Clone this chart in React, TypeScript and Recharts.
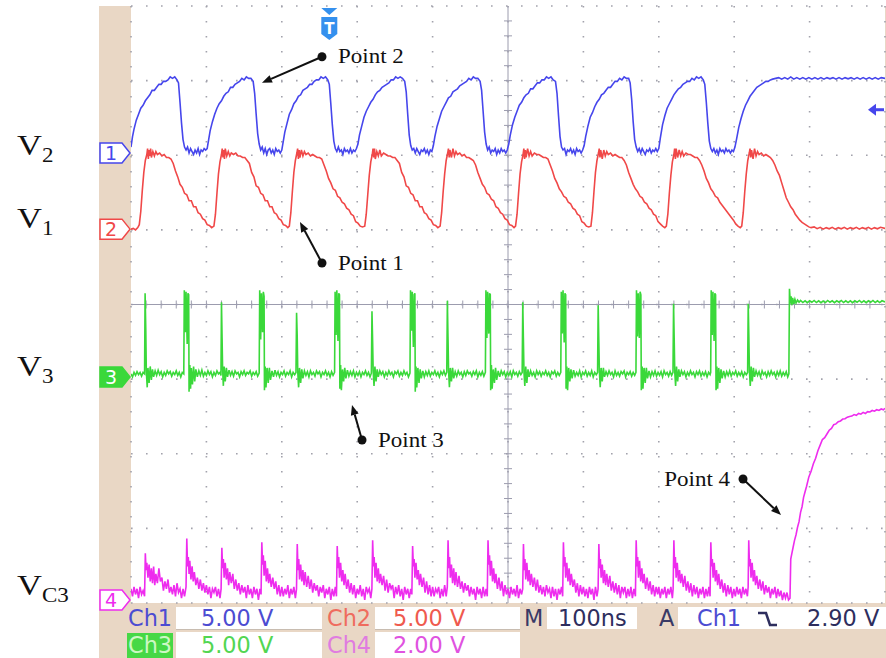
import React from 'react';
import { LineChart, Line, XAxis, YAxis, CartesianGrid, ReferenceLine, ReferenceDot } from 'recharts';

type Pt = [number, number];

// Ch1 (V2) volts vs time (ns)
const CH1_TRACE: Pt[] = [
  [0,0.4],[2,1.1],[4,1.6],[7,2.2],[10,2.6],[13,3.0],[16,3.2],[19,3.5],[22,3.7],[25,3.9],[28,4.2],[31,4.2],[34,4.4],[37,4.6],[40,4.6],[43,4.8],[46,4.8],[49,4.9],[52,5.1],[55,5.0],[58,5.1],[61,4.9],[63,4.7],[65,3.4],[67,2.0],[69,0.9],[71,0.4],[73,0.2],[75,0.4],[77,0.0],[79,0.3],[81,0.1],[83,-0.1],[85,0.2],[87,0.0],[89,0.3],[91,-0.1],[93,0.2],[95,0.1],[97,0.3],[99,0.2],
  [101,0.3],[103,0.9],[105,1.5],[108,2.1],[111,2.6],[114,3.0],[117,3.3],[120,3.5],[123,3.8],[126,4.0],[129,4.1],[132,4.4],[135,4.4],[138,4.6],[141,4.7],[144,4.8],[147,5.0],[150,4.9],[153,5.1],[156,5.0],[159,5.0],[162,4.8],[164,4.0],[166,2.6],[168,1.3],[170,0.6],[172,0.2],[174,0.4],[176,0.0],[178,0.3],[180,-0.1],[182,0.2],[184,0.3],[186,0.0],[188,0.2],[190,-0.1],[192,0.3],[194,0.1],[196,0.2],[198,0.0],
  [200,0.2],[202,0.8],[204,1.4],[207,2.0],[210,2.6],[213,2.9],[216,3.3],[219,3.5],[222,3.8],[225,3.9],[228,4.2],[231,4.3],[234,4.4],[237,4.6],[240,4.6],[243,4.8],[246,4.9],[249,4.9],[252,5.1],[255,5.0],[258,5.1],[261,4.9],[263,4.6],[265,3.3],[267,1.9],[269,0.8],[271,0.3],[273,0.1],[275,0.4],[277,0.1],[279,0.2],[281,-0.1],[283,0.3],[285,0.1],[287,0.2],[289,0.0],[291,0.3],[293,0.0],[295,0.2],[297,0.1],[299,0.3],
  [301,0.6],[303,1.2],[306,1.8],[309,2.4],[312,2.8],[315,3.1],[318,3.4],[321,3.6],[324,3.9],[327,4.1],[330,4.2],[333,4.4],[336,4.5],[339,4.6],[342,4.7],[345,4.9],[348,4.9],[351,5.1],[354,5.0],[357,5.1],[360,5.0],[363,4.8],[365,4.1],[367,2.6],[369,1.2],[371,0.5],[373,0.2],[375,0.3],[377,0.0],[379,0.3],[381,0.1],[383,-0.1],[385,0.2],[387,0.1],[389,0.3],[391,0.0],[393,0.2],[395,-0.1],[397,0.2],[399,0.1],
  [401,0.5],[403,1.1],[406,1.8],[409,2.3],[412,2.8],[415,3.1],[418,3.4],[421,3.7],[424,3.8],[427,4.1],[430,4.2],[433,4.3],[436,4.5],[439,4.6],[442,4.7],[445,4.8],[448,5.0],[451,4.9],[454,5.1],[457,5.0],[460,5.0],[463,4.8],[465,4.2],[467,2.8],[469,1.4],[471,0.6],[473,0.2],[475,0.4],[477,0.0],[479,0.2],[481,0.1],[483,0.3],[485,-0.1],[487,0.2],[489,0.0],[491,0.3],[493,0.1],[495,0.2],[497,0.0],[499,0.2],
  [501,0.6],[503,1.2],[506,1.9],[509,2.4],[512,2.8],[515,3.2],[518,3.4],[521,3.7],[524,3.9],[527,4.0],[530,4.3],[533,4.3],[536,4.5],[539,4.7],[542,4.7],[545,4.9],[548,4.9],[551,5.1],[554,5.0],[557,5.1],[560,4.9],[563,4.8],[565,4.0],[567,2.5],[569,1.1],[571,0.4],[573,0.2],[575,0.3],[577,-0.1],[579,0.2],[581,0.1],[583,0.3],[585,0.0],[587,0.2],[589,-0.1],[591,0.3],[593,0.1],[595,0.2],[597,0.0],[599,0.2],
  [601,0.5],[603,1.1],[606,1.8],[609,2.4],[612,2.7],[615,3.1],[618,3.4],[621,3.6],[624,3.9],[627,4.0],[630,4.2],[633,4.4],[636,4.4],[639,4.6],[642,4.8],[645,4.8],[648,5.0],[651,4.9],[654,5.1],[657,5.0],[660,5.0],[662,4.7],[664,3.6],[666,2.1],[668,0.9],[670,0.4],[672,0.1],[674,0.3],[676,0.0],[678,0.3],[680,0.1],[682,-0.1],[684,0.2],[686,0.1],[688,0.3],[690,0.0],[692,0.2],[694,0.1],[696,0.3],[698,0.1],
  [700,0.3],[702,1.0],[705,1.9],[708,2.5],[711,3.0],[714,3.3],[717,3.6],[720,3.9],[723,4.1],[726,4.3],[729,4.4],[732,4.6],[735,4.7],[738,4.8],[741,4.8],[744,5.0],[747,4.9],[750,5.1],[753,5.0],[756,5.1],[759,4.9],[761,4.6],[763,3.4],[765,2.0],[767,0.8],[769,0.3],[771,0.1],[773,0.3],[775,0.0],[777,0.2],[779,-0.1],[781,0.3],[783,0.1],[785,0.2],[787,0.0],[789,0.3],[791,0.1],[793,0.2],[795,0.0],[797,0.2],[799,0.1],
  [801,0.4],[803,0.9],[806,1.7],[809,2.3],[812,2.8],[815,3.2],[818,3.5],[821,3.8],[824,4.0],[827,4.2],[830,4.4],[833,4.5],[836,4.6],[839,4.7],[842,4.8],[845,4.8],[848,4.9],[851,4.95],[855,5.0],[859,5.05],[863,4.95],[867,5.05],[871,4.95],[875,5.1],[879,4.95],[883,5.05],[887,4.95],[891,5.05],[895,4.95],[899,5.05],[903,4.95],[907,5.05],[911,4.95],[915,5.05],[919,4.95],[923,5.05],[927,4.97],[931,5.05],[935,4.95],[939,5.05],[943,4.95],[947,5.05],[951,4.97],[955,5.05],[959,4.95],[963,5.05],[967,4.95],[971,5.05],[975,4.95],[979,5.05],[983,4.95],[987,5.05],[991,4.95],[995,5.05],[1000,5.0],
];

// Ch2 (V1)
const CH2_TRACE: Pt[] = [
  [0,0.0],[3,0.05],[6,-0.05],[9,0.1],[11,0.3],[13,1.2],[15,2.6],[17,3.8],[19,4.6],[21,5.0],[22,5.4],[23,4.7],[24,5.3],[25,4.9],[26,5.4],[27,4.8],[29,5.2],[31,4.9],[33,5.2],[35,5.0],[38,5.1],[41,4.9],[44,5.0],[47,4.8],[50,4.8],[53,4.7],[56,4.4],[59,3.9],[62,3.5],[65,3.0],[68,2.8],[71,2.4],[74,2.3],[77,1.9],[80,1.9],[83,1.5],[86,1.5],[89,1.1],[92,1.0],[95,0.7],[98,0.6],[101,0.3],[104,0.25],[107,0.1],[110,0.2],
  [112,1.0],[114,2.4],[116,3.7],[118,4.5],[120,5.0],[121,5.4],[122,4.8],[123,5.3],[124,4.7],[125,5.4],[127,4.9],[129,5.2],[131,4.9],[133,5.1],[136,5.0],[139,5.1],[142,4.9],[145,4.9],[148,4.8],[151,4.8],[154,4.6],[157,4.4],[160,3.8],[163,3.5],[166,2.9],[169,2.8],[172,2.4],[175,2.3],[178,1.9],[181,1.9],[184,1.5],[187,1.5],[190,1.1],[193,1.0],[196,0.7],[199,0.6],[202,0.3],[205,0.25],[208,0.1],[210,0.2],
  [212,1.1],[214,2.5],[216,3.8],[218,4.6],[220,5.1],[221,5.4],[222,4.7],[223,5.3],[224,4.8],[226,5.3],[228,4.9],[230,5.2],[232,5.0],[235,5.1],[238,4.9],[241,5.0],[244,4.9],[247,4.8],[250,4.8],[253,4.7],[256,4.3],[259,3.9],[262,3.4],[265,3.1],[268,2.7],[271,2.6],[274,2.2],[277,2.1],[280,1.8],[283,1.7],[286,1.4],[289,1.3],[292,1.0],[295,0.9],[298,0.5],[301,0.4],[304,0.2],[307,0.15],[310,0.2],
  [312,1.0],[314,2.3],[316,3.6],[318,4.5],[320,5.0],[321,5.4],[322,4.8],[323,5.4],[324,4.7],[326,5.2],[328,4.9],[330,5.3],[332,4.9],[335,5.1],[338,5.0],[341,4.9],[344,4.9],[347,4.8],[350,4.8],[353,4.6],[356,4.4],[359,3.8],[362,3.5],[365,2.9],[368,2.8],[371,2.4],[374,2.3],[377,1.9],[380,1.9],[383,1.5],[386,1.5],[389,1.1],[392,1.0],[395,0.7],[398,0.6],[401,0.3],[404,0.25],[407,0.1],[410,0.2],
  [412,1.1],[414,2.5],[416,3.7],[418,4.6],[420,5.1],[421,5.4],[422,4.8],[423,5.3],[425,4.8],[427,5.4],[429,4.9],[431,5.2],[433,5.0],[436,5.1],[439,4.9],[442,5.0],[445,4.8],[448,4.8],[451,4.7],[454,4.6],[457,4.3],[460,3.8],[463,3.4],[466,3.0],[469,2.8],[472,2.4],[475,2.3],[478,2.0],[481,1.9],[484,1.5],[487,1.4],[490,1.1],[493,1.0],[496,0.7],[499,0.6],[502,0.3],[505,0.25],[508,0.1],[510,0.2],
  [512,1.0],[514,2.4],[516,3.7],[518,4.5],[520,5.0],[521,5.4],[522,4.7],[523,5.3],[524,4.8],[526,5.4],[528,4.9],[530,5.2],[532,4.9],[535,5.1],[538,5.0],[541,5.0],[544,4.9],[547,4.8],[550,4.8],[553,4.7],[556,4.3],[559,3.9],[562,3.4],[565,3.1],[568,2.7],[571,2.5],[574,2.2],[577,2.1],[580,1.8],[583,1.7],[586,1.4],[589,1.3],[592,1.0],[595,0.9],[598,0.5],[601,0.4],[604,0.2],[607,0.15],[610,0.2],
  [612,1.1],[614,2.5],[616,3.8],[618,4.6],[620,5.1],[621,5.4],[622,4.8],[623,5.3],[625,4.7],[627,5.3],[629,4.9],[631,5.2],[633,5.0],[636,5.1],[639,4.9],[642,5.0],[645,4.9],[648,4.8],[651,4.8],[654,4.6],[657,4.3],[660,3.8],[663,3.4],[666,3.0],[669,2.7],[672,2.5],[675,2.2],[678,2.1],[681,1.8],[684,1.7],[687,1.4],[690,1.3],[693,1.0],[696,0.9],[699,0.5],[702,0.35],[705,0.2],[708,0.1],[710,0.2],
  [712,1.0],[714,2.4],[716,3.6],[718,4.5],[720,5.0],[721,5.4],[722,4.7],[723,5.4],[725,4.8],[727,5.3],[729,4.9],[731,5.2],[733,4.9],[736,5.1],[739,5.0],[742,5.0],[745,4.9],[748,4.8],[751,4.8],[754,4.6],[757,4.3],[760,3.9],[763,3.4],[766,3.1],[769,2.7],[772,2.5],[775,2.2],[778,2.1],[781,1.8],[784,1.6],[787,1.4],[790,1.2],[793,1.0],[796,0.8],[799,0.6],[802,0.35],[805,0.2],[808,0.1],[810,0.2],
  [812,1.1],[814,2.5],[816,3.7],[818,4.6],[820,5.1],[821,5.4],[822,4.8],[823,5.3],[825,4.7],[827,5.4],[829,4.9],[831,5.2],[833,5.0],[836,5.1],[839,4.9],[842,5.0],[845,4.9],[848,4.8],[851,4.6],[854,4.3],[857,3.9],[860,3.6],[863,3.1],[866,2.6],[869,2.1],[872,1.8],[875,1.5],[878,1.3],[881,1.0],[884,0.8],[887,0.6],[890,0.45],[893,0.35],[896,0.25],[899,0.15],[902,0.1],[906,0.15],[910,0.03],[914,0.12],[918,0.0],[922,0.1],[926,0.02],[930,0.12],[934,0.0],[938,0.1],[942,0.02],[946,0.12],[950,0.0],[954,0.1],[958,0.02],[962,0.12],[966,0.0],[970,0.1],[974,0.02],[978,0.12],[982,0.0],[986,0.1],[990,0.02],[994,0.12],[1000,0.05],
];

// Ch3 (V3)
const CH3_TRACE: Pt[] = [
  [0,0.2],[2,0.0],[4,0.3],[6,0.1],[8,0.35],[10,0.15],[12,0.3],[14,0.05],[16,0.3],[18,0.2],[18.7,5.6],[19.6,3.2],[20.3,0.4],[21.5,-0.7],[22.5,0.6],[24,-0.4],[25.5,0.7],[27,-0.2],[28.5,0.5],[30,0.0],[32,0.4],[34,0.1],[36,0.45],[38,0.15],[40,0.35],[42,0.0],[44,0.3],[46,0.1],[48,0.4],[50,0.2],[52,0.35],[54,0.05],[56,0.3],[58,0.15],[60,0.4],[62,0.1],[64,0.3],[66,0.0],[68,0.3],[70,0.2],[70.7,5.8],[72,3.0],[73,5.7],[74.5,2.2],[75.5,5.6],[76.5,5.5],[77,-1.0],[78,0.8],[79,-0.8],[80,0.6],[81.5,-0.5],[83,0.7],[84.5,-0.3],[86,0.5],[88,0.0],[90,0.4],[92,0.1],[94,0.45],[96,0.05],[98,0.3],
  [100,0.1],[102,0.4],[104,0.15],[106,0.35],[108,0.0],[110,0.3],[112,0.1],[114,0.4],[116,0.2],[118,0.3],[119.3,0.1],[120,5.0],[120.8,2.6],[121.5,0.5],[122.5,-0.6],[123.5,0.7],[125,-0.3],[126.5,0.6],[128,0.0],[130,0.45],[132,0.1],[134,0.35],[136,0.05],[138,0.4],[140,0.2],[142,0.3],[144,0.0],[146,0.35],[148,0.15],[150,0.4],[152,0.1],[154,0.3],[156,0.2],[158,0.4],[160,0.05],[162,0.3],[164,0.15],[166,0.35],[168,0.05],[170,0.25],[170.7,5.8],[172,2.5],[173,5.6],[174.5,3.0],[175.5,5.7],[176.5,5.4],[177,-0.9],[178,0.7],[179,-0.7],[180.5,0.6],[182,-0.4],[183.5,0.6],[185,-0.2],[187,0.4],[189,0.0],[191,0.45],[193,0.1],[195,0.35],[197,0.0],[199,0.3],
  [201,0.15],[203,0.4],[205,0.05],[207,0.3],[209,0.15],[211,0.4],[213,0.0],[215,0.3],[217,0.15],[218.8,0.3],[219.6,4.3],[220.4,2.8],[221.2,0.3],[222.3,-0.7],[223.5,0.6],[225,-0.4],[226.5,0.5],[228,-0.1],[230,0.4],[232,0.1],[234,0.35],[236,0.0],[238,0.4],[240,0.15],[242,0.3],[244,0.05],[246,0.4],[248,0.2],[250,0.35],[252,0.0],[254,0.3],[256,0.15],[258,0.4],[260,0.1],[262,0.3],[264,0.0],[266,0.35],[268,0.1],[270,0.3],[270.7,5.7],[272,2.8],[273,5.8],[274.5,2.4],[275.5,5.6],[276.5,5.5],[277,-0.8],[278,0.8],[279,-0.9],[280.5,0.5],[282,-0.3],[283.5,0.6],[285,-0.1],[287,0.45],[289,0.05],[291,0.35],[293,0.1],[295,0.4],[297,0.0],[299,0.3],
  [301,0.1],[303,0.35],[305,0.0],[307,0.3],[309,0.15],[311,0.4],[313,0.1],[315,0.3],[317,0.0],[318.8,0.25],[319.6,4.4],[320.4,2.5],[321.2,0.4],[322.3,-0.6],[323.5,0.7],[325,-0.3],[326.5,0.5],[328,0.0],[330,0.4],[332,0.15],[334,0.35],[336,0.0],[338,0.3],[340,0.1],[342,0.4],[344,0.15],[346,0.3],[348,0.0],[350,0.35],[352,0.2],[354,0.4],[356,0.05],[358,0.3],[360,0.1],[362,0.4],[364,0.15],[366,0.3],[368,0.0],[370,0.25],[370.7,5.8],[372,3.1],[373,5.7],[374.5,2.0],[375.5,5.5],[376.5,5.6],[377,-1.0],[378,0.7],[379,-0.7],[380.5,0.6],[382,-0.4],[383.5,0.5],[385,-0.1],[387,0.4],[389,0.0],[391,0.35],[393,0.1],[395,0.4],[397,0.05],[399,0.3],
  [401,0.15],[403,0.4],[405,0.1],[407,0.3],[409,0.0],[411,0.35],[413,0.15],[415,0.4],[417,0.1],[418.8,0.3],[419.6,5.1],[420.4,2.7],[421.2,0.4],[422.3,-0.7],[423.5,0.6],[425,-0.3],[426.5,0.6],[428,-0.1],[430,0.35],[432,0.05],[434,0.4],[436,0.15],[438,0.3],[440,0.0],[442,0.35],[444,0.1],[446,0.4],[448,0.2],[450,0.3],[452,0.05],[454,0.35],[456,0.15],[458,0.4],[460,0.0],[462,0.3],[464,0.1],[466,0.35],[468,0.05],[470,0.3],[470.7,5.8],[472,2.6],[473,5.7],[474.5,2.9],[475.5,5.6],[476.5,5.5],[477,-0.9],[478,0.8],[479,-0.8],[480.5,0.5],[482,-0.4],[483.5,0.6],[485,-0.2],[487,0.4],[489,0.0],[491,0.4],[493,0.15],[495,0.35],[497,0.0],[499,0.3],
  [501,0.1],[503,0.35],[505,0.0],[507,0.4],[509,0.15],[511,0.3],[513,0.05],[515,0.35],[517,0.15],[518.8,0.3],[519.6,5.0],[520.4,2.6],[521.2,0.3],[522.3,-0.6],[523.5,0.7],[525,-0.4],[526.5,0.5],[528,0.0],[530,0.4],[532,0.1],[534,0.3],[536,0.0],[538,0.4],[540,0.15],[542,0.35],[544,0.05],[546,0.3],[548,0.15],[550,0.4],[552,0.1],[554,0.3],[556,0.0],[558,0.35],[560,0.2],[562,0.4],[564,0.05],[566,0.3],[568,0.1],[570,0.3],[570.7,5.7],[572,2.9],[573,5.8],[574.5,2.3],[575.5,5.6],[576.5,5.5],[577,-0.8],[578,0.7],[579,-0.9],[580.5,0.6],[582,-0.3],[583.5,0.5],[585,-0.1],[587,0.45],[589,0.05],[591,0.3],[593,0.1],[595,0.4],[597,0.0],[599,0.3],
  [601,0.15],[603,0.4],[605,0.05],[607,0.3],[609,0.1],[611,0.4],[613,0.0],[615,0.3],[617,0.15],[618.8,0.3],[619.6,4.8],[620.4,2.5],[621.2,0.4],[622.3,-0.7],[623.5,0.6],[625,-0.3],[626.5,0.6],[628,0.0],[630,0.35],[632,0.1],[634,0.4],[636,0.15],[638,0.3],[640,0.0],[642,0.4],[644,0.1],[646,0.3],[648,0.05],[650,0.35],[652,0.2],[654,0.4],[656,0.0],[658,0.3],[660,0.15],[662,0.35],[664,0.05],[666,0.3],[668,0.1],[669.7,0.3],[670.4,5.8],[671.7,2.7],[672.7,5.6],[674.2,2.6],[675.2,5.7],[676.2,5.5],[676.8,-0.9],[678,0.7],[679,-0.8],[680.5,0.6],[682,-0.4],[683.5,0.6],[685,-0.1],[687,0.4],[689,0.0],[691,0.35],[693,0.1],[695,0.4],[697,0.05],[699,0.3],
  [701,0.1],[703,0.35],[705,0.0],[707,0.4],[709,0.15],[711,0.3],[713,0.05],[715,0.35],[717,0.1],[718.8,0.3],[719.6,4.9],[720.4,2.6],[721.2,0.3],[722.3,-0.6],[723.5,0.7],[725,-0.3],[726.5,0.5],[728,0.0],[730,0.4],[732,0.15],[734,0.35],[736,0.0],[738,0.3],[740,0.1],[742,0.4],[744,0.15],[746,0.3],[748,0.0],[750,0.35],[752,0.15],[754,0.4],[756,0.05],[758,0.3],[760,0.1],[762,0.35],[764,0.0],[766,0.3],[768,0.15],[768.8,0.3],[769.5,5.8],[770.8,2.8],[771.8,5.7],[773.3,2.4],[774.3,5.6],[775.3,5.5],[775.9,-0.9],[777,0.7],[778,-0.8],[779.5,0.6],[781,-0.4],[782.5,0.5],[784,-0.1],[786,0.4],[788,0.0],[790,0.35],[792,0.1],[794,0.4],[796,0.05],[798,0.3],
  [800,0.15],[802,0.4],[804,0.05],[806,0.3],[808,0.1],[810,0.35],[812,0.0],[814,0.3],[816,0.15],[817.8,0.3],[818.6,4.9],[819.4,2.8],[820.2,0.4],[821.3,-0.6],[822.5,0.7],[824,-0.3],[825.5,0.6],[827,0.0],[829,0.4],[831,0.1],[833,0.35],[835,0.0],[837,0.4],[839,0.15],[841,0.3],[843,0.0],[845,0.35],[847,0.1],[849,0.4],[851,0.15],[853,0.3],[855,0.0],[857,0.35],[859,0.1],[861,0.4],[863,0.05],[865,0.3],[867,0.1],[869,0.35],[871,0.0],[872.5,0.2],
  [873.3,5.9],[874.5,4.9],[875.5,5.4],[876.5,4.8],[877.5,5.3],[879,4.9],[880.5,5.2],[882,4.95],[884,5.15],[886,5.0],[888,5.12],[891,4.98],[894,5.1],[897,4.97],[900,5.1],[903,5.0],[906,5.12],[909,4.98],[912,5.1],[915,4.97],[918,5.08],[921,4.98],[924,5.12],[927,5.0],[930,5.1],[933,4.97],[936,5.1],[939,5.0],[942,5.12],[945,4.98],[948,5.1],[951,4.98],[954,5.1],[957,4.97],[960,5.1],[963,5.0],[966,5.12],[969,4.98],[972,5.1],[975,4.97],[978,5.1],[981,5.0],[984,5.12],[987,4.98],[990,5.1],[993,4.98],[996,5.1],[1000,5.02],
];

// Ch4 (VC3)
const CH4_TRACE: Pt[] = [
  [0,0.3],[2,0.1],[4,0.35],[6,0.15],[8,0.3],[10,0.05],[12,0.35],[14,0.15],[16,0.25],[18,0.1],[19,1.25],[20,0.8],[21,1.0],[22.5,0.6],[24,0.95],[25.5,0.5],[27,0.85],[28.5,0.45],[30,0.9],[31.5,0.4],[33,0.7],[35,0.45],[37,0.85],[39,0.5],[41,0.6],[43,0.25],[45,0.5],[47,0.3],[49,0.55],[51,0.2],[53,0.35],[55,0.15],[57,0.4],[59,0.1],[61,0.45],[63,0.2],[65,0.3],[67,0.05],[69,0.3],[71,0.1],[73,0.35],
  [74,1.65],[75,0.9],[76,1.15],[77,0.7],[78,1.05],[79.5,0.55],[81,0.9],[82.5,0.5],[84,0.75],[86,0.4],[88,0.6],[90,0.3],[92,0.55],[94,0.25],[96,0.45],[98,0.2],
  [100,0.4],[102,0.15],[104,0.35],[106,0.05],[108,0.3],[110,0.2],[112,0.35],[114,0.1],[116,0.3],[118,0.05],[119.5,0.3],[120.5,1.4],[121.5,0.85],[122.5,1.1],[123.5,0.6],[125,1.0],[126.5,0.55],[128,0.85],[129.5,0.4],[131,0.75],[133,0.45],[135,0.7],[137,0.3],[139,0.55],[141,0.25],[143,0.45],[145,0.15],[147,0.4],[149,0.2],[151,0.35],[153,0.05],[155,0.4],[157,0.15],[159,0.3],[161,0.05],[163,0.35],[165,0.15],[167,0.3],[169,0.0],[171,0.3],[172.5,0.15],
  [173.5,1.55],[174.5,0.95],[175.5,1.2],[176.5,0.65],[178,1.05],[179.5,0.5],[181,0.85],[182.5,0.45],[184,0.7],[186,0.35],[188,0.6],[190,0.3],[192,0.5],[194,0.15],[196,0.4],[198,0.1],
  [200,0.35],[202,0.1],[204,0.3],[206,0.15],[208,0.4],[210,0.05],[212,0.3],[214,0.15],[216,0.35],[218,0.05],[219.5,0.3],[220.5,1.5],[221.5,0.8],[222.5,1.1],[223.5,0.55],[225,0.95],[226.5,0.5],[228,0.8],[229.5,0.4],[231,0.75],[233,0.35],[235,0.65],[237,0.3],[239,0.55],[241,0.2],[243,0.45],[245,0.25],[247,0.4],[249,0.1],[251,0.35],[253,0.2],[255,0.4],[257,0.05],[259,0.3],[261,0.15],[263,0.35],[265,0.0],[267,0.3],[269,0.1],[271,0.35],[272.5,0.1],
  [273.5,1.45],[274.5,0.85],[275.5,1.15],[276.5,0.6],[278,1.0],[279.5,0.5],[281,0.8],[282.5,0.4],[284,0.7],[286,0.3],[288,0.55],[290,0.2],[292,0.45],[294,0.15],[296,0.4],[298,0.05],
  [300,0.3],[302,0.15],[304,0.4],[306,0.1],[308,0.3],[310,0.0],[312,0.35],[314,0.2],[316,0.3],[318,0.05],[319.5,0.3],[320.5,1.6],[321.5,0.9],[322.5,1.15],[323.5,0.6],[325,1.0],[326.5,0.5],[328,0.85],[329.5,0.45],[331,0.7],[333,0.4],[335,0.65],[337,0.25],[339,0.55],[341,0.2],[343,0.45],[345,0.3],[347,0.4],[349,0.05],[351,0.35],[353,0.15],[355,0.4],[357,0.1],[359,0.3],[361,0.0],[363,0.35],[365,0.15],[367,0.3],[369,0.05],[371,0.3],[372.5,0.15],
  [373.5,1.45],[374.5,0.9],[375.5,1.1],[376.5,0.6],[378,1.0],[379.5,0.55],[381,0.8],[382.5,0.4],[384,0.7],[386,0.35],[388,0.6],[390,0.2],[392,0.5],[394,0.15],[396,0.4],[398,0.1],
  [400,0.35],[402,0.1],[404,0.3],[406,0.2],[408,0.35],[410,0.05],[412,0.3],[414,0.1],[416,0.4],[418,0.1],[419.5,0.35],[420.5,1.6],[421.5,0.85],[422.5,1.15],[423.5,0.6],[425,0.95],[426.5,0.45],[428,0.85],[429.5,0.4],[431,0.75],[433,0.35],[435,0.65],[437,0.3],[439,0.5],[441,0.2],[443,0.45],[445,0.25],[447,0.4],[449,0.1],[451,0.35],[453,0.15],[455,0.3],[457,0.0],[459,0.35],[461,0.15],[463,0.3],[465,0.05],[467,0.35],[469,0.1],[471,0.3],[472.5,0.1],
  [473.5,1.6],[474.5,0.95],[475.5,1.2],[476.5,0.65],[478,1.05],[479.5,0.5],[481,0.85],[482.5,0.45],[484,0.7],[486,0.3],[488,0.6],[490,0.25],[492,0.5],[494,0.1],[496,0.4],[498,0.15],
  [500,0.3],[502,0.05],[504,0.35],[506,0.15],[508,0.3],[510,0.1],[512,0.4],[514,0.05],[516,0.3],[518,0.15],[519.5,0.3],[520.5,1.5],[521.5,0.8],[522.5,1.1],[523.5,0.55],[525,1.0],[526.5,0.5],[528,0.8],[529.5,0.4],[531,0.7],[533,0.35],[535,0.6],[537,0.25],[539,0.55],[541,0.2],[543,0.4],[545,0.15],[547,0.35],[549,0.1],[551,0.4],[553,0.2],[555,0.3],[557,0.05],[559,0.35],[561,0.1],[563,0.3],[565,0.0],[567,0.3],[569,0.15],[571,0.35],[572.5,0.1],
  [573.5,1.55],[574.5,0.9],[575.5,1.15],[576.5,0.6],[578,1.0],[579.5,0.5],[581,0.85],[582.5,0.4],[584,0.7],[586,0.35],[588,0.55],[590,0.2],[592,0.45],[594,0.1],[596,0.4],[598,0.15],
  [600,0.35],[602,0.1],[604,0.3],[606,0.05],[608,0.35],[610,0.15],[612,0.3],[614,0.0],[616,0.35],[618,0.1],[619.5,0.3],[620.5,1.5],[621.5,0.85],[622.5,1.1],[623.5,0.6],[625,0.95],[626.5,0.45],[628,0.8],[629.5,0.4],[631,0.7],[633,0.35],[635,0.65],[637,0.25],[639,0.5],[641,0.2],[643,0.45],[645,0.15],[647,0.4],[649,0.05],[651,0.35],[653,0.2],[655,0.35],[657,0.05],[659,0.3],[661,0.1],[663,0.35],[665,0.05],[667,0.3],[669,0.1],
  [670,1.6],[671,0.9],[672,1.15],[673,0.6],[674.5,1.05],[676,0.5],[677.5,0.85],[679,0.45],[680.5,0.7],[682.5,0.3],[684.5,0.6],[686.5,0.25],[688.5,0.5],[690.5,0.15],[692.5,0.4],[694.5,0.1],[696.5,0.35],[698.5,0.15],
  [700,0.35],[702,0.05],[704,0.3],[706,0.15],[708,0.35],[710,0.05],[712,0.3],[714,0.15],[716,0.35],[718,0.05],[719,0.3],[720,1.6],[721,0.85],[722,1.15],[723,0.6],[724.5,1.0],[726,0.5],[727.5,0.8],[729,0.45],[730.5,0.7],[732.5,0.35],[734.5,0.65],[736.5,0.25],[738.5,0.5],[740.5,0.2],[742.5,0.45],[744.5,0.1],[746.5,0.4],[748.5,0.15],[750.5,0.35],[752.5,0.05],[754.5,0.3],[756.5,0.15],[758.5,0.35],[760.5,0.05],[762.5,0.3],[764.5,0.1],[766.5,0.35],[768,0.1],
  [769,1.55],[770,0.9],[771,1.1],[772,0.6],[773.5,1.0],[775,0.5],[776.5,0.8],[778,0.4],[779.5,0.7],[781.5,0.3],[783.5,0.55],[785.5,0.2],[787.5,0.45],[789.5,0.1],[791.5,0.4],[793.5,0.15],[795.5,0.35],[797.5,0.05],
  [799.5,0.3],[801.5,0.1],[803.5,0.35],[805.5,0.15],[807.5,0.3],[809.5,0.05],[811.5,0.35],[813.5,0.15],[815.5,0.3],[817.5,0.1],[818.5,0.35],[819.3,1.6],[820.3,0.9],[821.3,1.1],[822.3,0.6],[823.8,1.0],[825.3,0.5],[826.8,0.8],[828.3,0.4],[830,0.65],[832,0.3],[834,0.55],[836,0.25],[838,0.5],[840,0.15],[842,0.4],[844,0.2],[846,0.35],[848,0.05],[850,0.3],[852,0.15],[854,0.35],[856,0.05],[858,0.3],[860,0.1],[862,0.25],[864,0.0],[866,0.2],[868,0.05],[870,0.2],[872,0.0],[874,0.05],
  [875,1.1],[876.5,1.25],[878,1.4],[880,1.6],[882,1.75],[884,1.95],[886,2.1],[888,2.35],[890,2.5],[892,2.75],[894,2.9],[896,3.05],[899,3.3],[902,3.45],[905,3.65],[908,3.8],[911,4.0],[914,4.15],[917,4.3],[920,4.35],[923,4.45],[926,4.55],[929,4.6],[932,4.7],[935,4.72],[938,4.78],[941,4.8],[944,4.85],[947,4.86],[950,4.9],[953,4.92],[956,4.93],[959,4.97],[962,4.95],[965,5.0],[968,4.98],[971,5.03],[974,5.0],[977,5.05],[980,5.04],[983,5.08],[986,5.06],[989,5.1],[992,5.08],[995,5.12],[998,5.1],[1000,5.14],
];

const TIME_TICKS = [0, 100, 200, 300, 400, 500, 600, 700, 800, 900, 1000];
const DIV_TICKS = [-4, -3, -2, -1, 0, 1, 2, 3, 4];
const TIME_SUBTICKS = Array.from({ length: 51 }, (_, i) => i * 20);
const DIV_SUBTICKS = Array.from({ length: 41 }, (_, i) => -4 + i * 0.2);

const CHANNELS = [
  { id: 'c1', num: '1', color: '#4646ec', voltsPerDiv: 5, groundDiv: 2.03, trace: CH1_TRACE, filled: false },
  { id: 'c2', num: '2', color: '#f04848', voltsPerDiv: 5, groundDiv: 1.01, trace: CH2_TRACE, filled: false },
  { id: 'c3', num: '3', color: '#3ad83a', voltsPerDiv: 5, groundDiv: -0.97, trace: CH3_TRACE, filled: true },
  { id: 'c4', num: '4', color: '#ee2cee', voltsPerDiv: 2, groundDiv: -3.96, trace: CH4_TRACE, filled: false },
];

const SIDE_LABELS = [
  { main: 'V', sub: '2', y: 155 },
  { main: 'V', sub: '1', y: 228 },
  { main: 'V', sub: '3', y: 376 },
  { main: 'V', sub: 'C3', y: 595 },
];

const ANNOTATIONS = [
  { text: 'Point 2', from: { t: 253.3, d: 3.32 }, to: { t: 173.7, d: 2.97 }, side: 'right' },
  { text: 'Point 1', from: { t: 253.3, d: 0.556 }, to: { t: 224.1, d: 1.106 }, side: 'right' },
  { text: 'Point 3', from: { t: 306.4, d: -1.816 }, to: { t: 293.1, d: -1.347 }, side: 'right' },
  { text: 'Point 4', from: { t: 811.7, d: -2.339 }, to: { t: 862.1, d: -2.822 }, side: 'left' },
];

const TRIGGER_TIME = 263;
const TRIGGER_LEVEL = 2.9;

const BEIGE = '#e9d7c5';
const BORDER = '#a4a4ae';
const SERIF = "'Liberation Serif','Times New Roman',serif";
const SANS = "'DejaVu Sans',Verdana,sans-serif";

const ArrowShape = (props: any) => {
  const { x1, y1, x2, y2, text, side } = props;
  if ([x1, y1, x2, y2].some((v) => v == null || isNaN(v))) return null;
  const dx = x2 - x1;
  const dy = y2 - y1;
  const len = Math.hypot(dx, dy) || 1;
  const ux = dx / len;
  const uy = dy / len;
  const ah = 10;
  const aw = 4;
  const bx = x2 - ux * ah;
  const by = y2 - uy * ah;
  const pts = `${x2},${y2} ${bx - uy * aw},${by + ux * aw} ${bx + uy * aw},${by - ux * aw}`;
  const tx = side === 'right' ? x1 + 16 : x1 - 13;
  return (
    <g>
      <line x1={x1} y1={y1} x2={bx} y2={by} stroke="#111" strokeWidth={2} />
      <polygon points={pts} fill="#111" />
      <circle cx={x1} cy={y1} r={4.5} fill="#111" />
      <text
        transform={`translate(${tx},${y1 + 6.5}) scale(1.15,1)`}
        textAnchor={side === 'right' ? 'start' : 'end'}
        fontFamily={SERIF}
        fontSize={20}
        fill="#111"
      >
        {text}
      </text>
    </g>
  );
};

const CenterLineShape = (props: any) => {
  const { x1, y1, x2, y2 } = props;
  if ([x1, y1, x2, y2].some((v) => v == null || isNaN(v))) return null;
  const horizontal = Math.abs(x2 - x1) > Math.abs(y2 - y1);
  const n = horizontal ? 50 : 40;
  const ticks = [];
  for (let i = 1; i < n; i++) {
    const x = x1 + ((x2 - x1) * i) / n;
    const y = y1 + ((y2 - y1) * i) / n;
    ticks.push(
      horizontal ? (
        <line key={i} x1={x} x2={x} y1={y - 4} y2={y + 4} />
      ) : (
        <line key={i} x1={x - 4} x2={x + 4} y1={y} y2={y} />
      )
    );
  }
  return (
    <g stroke="#9c9cae" strokeWidth={1}>
      <line x1={x1} y1={y1} x2={x2} y2={y2} />
      {ticks}
    </g>
  );
};

const ChannelMarker = (props: any) => {
  const { cx, cy, color, num, filled } = props;
  if (cx == null || cy == null) return null;
  return (
    <g>
      <polygon
        points={`${cx - 31},${cy - 10} ${cx - 9},${cy - 10} ${cx - 1},${cy} ${cx - 9},${cy + 10} ${cx - 31},${cy + 10}`}
        fill={filled ? color : '#ffffff'}
        stroke={color}
        strokeWidth={1.5}
      />
      <text x={cx - 20} y={cy + 7} textAnchor="middle" fontFamily={SANS} fontSize={19} fill={filled ? '#ffffff' : color}>
        {num}
      </text>
    </g>
  );
};

const TriggerMarker = (props: any) => {
  const { cx, cy } = props;
  if (cx == null || cy == null) return null;
  return (
    <g>
      <polygon points={`${cx - 8},${cy + 2} ${cx + 8},${cy + 2} ${cx},${cy + 9}`} fill="#3490ee" />
      <path d={`M${cx - 8},${cy + 11} L${cx + 8},${cy + 11} L${cx + 8},${cy + 28} L${cx},${cy + 34} L${cx - 8},${cy + 28} Z`} fill="#3490ee" />
      <text x={cx} y={cy + 28} textAnchor="middle" fontFamily={SANS} fontWeight="bold" fontSize={15} fill="#ffffff">
        T
      </text>
    </g>
  );
};

const LevelMarker = (props: any) => {
  const { cx, cy } = props;
  if (cx == null || cy == null) return null;
  return (
    <g fill="#4646ec">
      <polygon points={`${cx - 17},${cy} ${cx - 9},${cy - 6} ${cx - 9},${cy + 6}`} />
      <rect x={cx - 10} y={cy - 1.5} width={9} height={3} />
    </g>
  );
};

const StatusText = ({ x, y, fill, children }: any) => (
  <text transform={`translate(${x},${y}) scale(1.12,1.12)`} fontFamily={SANS} fontSize={20} fill={fill}>
    {children}
  </text>
);

export default function App() {
  return (
    <div style={{ position: 'absolute', left: 0, top: 0, width: 886, height: 658, overflow: 'hidden', background: '#fff' }}>
      <svg width={886} height={658} style={{ position: 'absolute', left: 0, top: 0 }}>
        <rect x={0} y={0} width={886} height={658} fill="#ffffff" />
        <rect x={99} y={6} width={32} height={600} fill={BEIGE} />
        <rect x={885} y={6} width={1} height={600} fill={BEIGE} />
        <rect x={99} y={603} width={787} height={55} fill={BEIGE} />
        {SIDE_LABELS.map((l, i) => (
          <text key={i} transform={`translate(17,${l.y}) scale(1.15,1)`} fontFamily={SERIF} fontSize={30} fill="#111">
            {l.main}
            <tspan fontSize={20} dy={7}>
              {l.sub}
            </tspan>
          </text>
        ))}
      </svg>

      <div style={{ position: 'absolute', left: 0, top: 0 }}>
        <LineChart width={886} height={658} margin={{ top: 6, right: 1, bottom: 55, left: 131 }}>
          <XAxis xAxisId={0} dataKey="t" type="number" domain={[0, 1000]} ticks={TIME_TICKS} hide allowDataOverflow />
          <XAxis xAxisId="top" orientation="top" type="number" domain={[0, 1000]} ticks={TIME_SUBTICKS} interval={0} mirror height={0} tick={false} tickSize={4} axisLine={{ stroke: BORDER }} tickLine={{ stroke: BORDER }} allowDataOverflow />
          <XAxis xAxisId="bottom" orientation="bottom" type="number" domain={[0, 1000]} ticks={TIME_SUBTICKS} interval={0} mirror height={0} tick={false} tickSize={4} axisLine={{ stroke: BORDER }} tickLine={{ stroke: BORDER }} allowDataOverflow />
          <YAxis yAxisId="div" type="number" domain={[-4, 4]} ticks={DIV_TICKS} hide allowDataOverflow />
          <YAxis yAxisId="left" orientation="left" type="number" domain={[-4, 4]} ticks={DIV_SUBTICKS} interval={0} mirror width={0} tick={false} tickSize={4} axisLine={{ stroke: BORDER }} tickLine={{ stroke: BORDER }} allowDataOverflow />
          <YAxis yAxisId="right" orientation="right" type="number" domain={[-4, 4]} ticks={DIV_SUBTICKS} interval={0} mirror width={0} tick={false} tickSize={4} axisLine={{ stroke: BORDER }} tickLine={{ stroke: BORDER }} allowDataOverflow />
          {CHANNELS.map((ch) => (
            <YAxis
              key={ch.id}
              yAxisId={ch.id}
              type="number"
              domain={[(-4 - ch.groundDiv) * ch.voltsPerDiv, (4 - ch.groundDiv) * ch.voltsPerDiv]}
              hide
              allowDataOverflow
            />
          ))}
          <CartesianGrid xAxisId={0} yAxisId="div" stroke="#a2a2ac" strokeWidth={1.6} strokeDasharray="1.6 13.4" />
          <ReferenceLine xAxisId={0} yAxisId="div" y={0} shape={(p: any) => <CenterLineShape {...p} />} />
          <ReferenceLine xAxisId={0} yAxisId="div" x={500} shape={(p: any) => <CenterLineShape {...p} />} />
          {CHANNELS.map((ch) => (
            <Line
              key={ch.id}
              data={ch.trace.map(([t, v]) => ({ t, v }))}
              dataKey="v"
              xAxisId={0}
              yAxisId={ch.id}
              type="linear"
              stroke={ch.color}
              strokeWidth={1.6}
              dot={false}
              activeDot={false}
              isAnimationActive={false}
            />
          ))}
          {CHANNELS.map((ch) => (
            <ReferenceDot
              key={'m' + ch.id}
              xAxisId={0}
              yAxisId={ch.id}
              x={0}
              y={0}
              ifOverflow="visible"
              shape={(p: any) => <ChannelMarker cx={p.cx} cy={p.cy} color={ch.color} num={ch.num} filled={ch.filled} />}
            />
          ))}
          <ReferenceDot xAxisId={0} yAxisId="div" x={TRIGGER_TIME} y={4} ifOverflow="visible" shape={(p: any) => <TriggerMarker cx={p.cx} cy={p.cy} />} />
          <ReferenceDot xAxisId={0} yAxisId="c1" x={1000} y={TRIGGER_LEVEL} ifOverflow="visible" shape={(p: any) => <LevelMarker cx={p.cx} cy={p.cy} />} />
          {ANNOTATIONS.map((a) => (
            <ReferenceLine
              key={a.text}
              xAxisId={0}
              yAxisId="div"
              ifOverflow="visible"
              segment={[{ x: a.from.t, y: a.from.d }, { x: a.to.t, y: a.to.d }]}
              shape={(p: any) => <ArrowShape {...p} text={a.text} side={a.side} />}
            />
          ))}
        </LineChart>
      </div>

      <svg width={886} height={658} style={{ position: 'absolute', left: 0, top: 0, pointerEvents: 'none' }}>
        <rect x={176} y={607} width={146} height={22} fill="#ffffff" />
        <rect x={375} y={607} width={145} height={22} fill="#ffffff" />
        <rect x={547} y={607} width={90} height={22} fill="#ffffff" />
        <rect x={678} y={607} width={208} height={22} fill="#ffffff" />
        <line x1={176} x2={322} y1={629.5} y2={629.5} stroke="#c8bcb0" />
        <line x1={375} x2={520} y1={629.5} y2={629.5} stroke="#c8bcb0" />
        <rect x={176} y={632} width={146} height={26} fill="#ffffff" />
        <rect x={375} y={632} width={145} height={26} fill="#ffffff" />
        <rect x={127} y={633} width={46} height={25} fill="#46d846" />
        <StatusText x={128} y={626} fill="#4c4cd2">Ch1</StatusText>
        <StatusText x={201} y={626} fill="#4c4cd2">5.00 V</StatusText>
        <StatusText x={327} y={626} fill="#ef6c5e">Ch2</StatusText>
        <StatusText x={393} y={626} fill="#ef5a4e">5.00 V</StatusText>
        <StatusText x={524} y={626} fill="#3a3a66">M</StatusText>
        <StatusText x={558} y={626} fill="#2e2e5e">100ns</StatusText>
        <StatusText x={659} y={626} fill="#3a3a66">A</StatusText>
        <StatusText x={697} y={626} fill="#4c4cd2">Ch1</StatusText>
        <path d="M758,613 L766,613 L770,625 L777,625" stroke="#2e2e5e" strokeWidth={2.5} fill="none" />
        <StatusText x={807} y={626} fill="#2e2e5e">2.90 V</StatusText>
        <StatusText x={128} y={652.5} fill="#ccf8c4">Ch3</StatusText>
        <StatusText x={201} y={652.5} fill="#52d652">5.00 V</StatusText>
        <StatusText x={327} y={652.5} fill="#e07ce0">Ch4</StatusText>
        <StatusText x={393} y={652.5} fill="#e052e0">2.00 V</StatusText>
      </svg>
    </div>
  );
}
